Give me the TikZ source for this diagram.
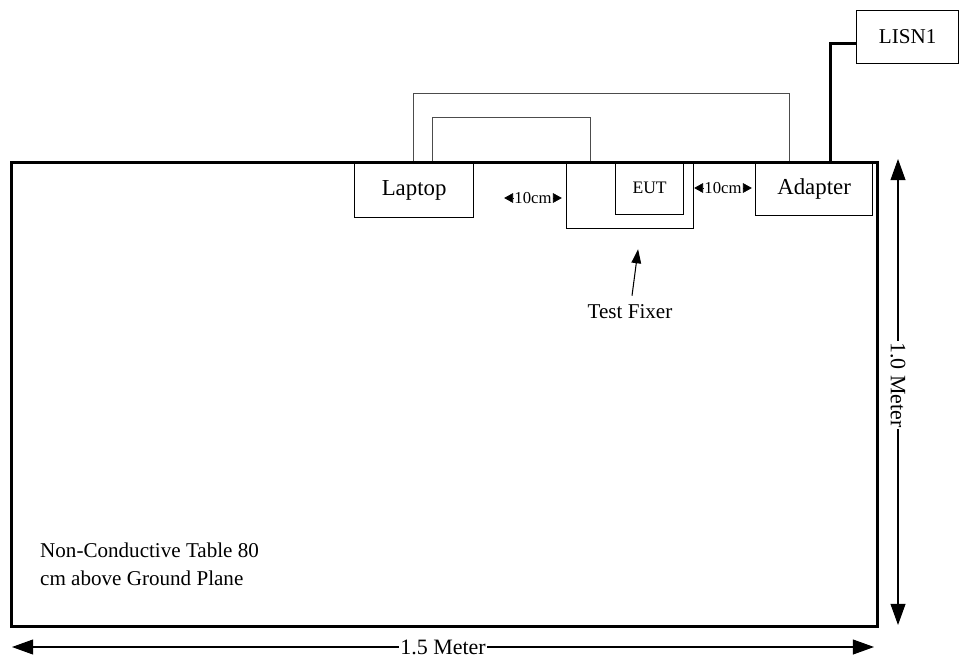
\documentclass[tikz,border=0pt]{standalone}
\usepackage{fontspec}
\setmainfont{Liberation Serif}
\usetikzlibrary{arrows.meta, calc}
\tikzset{box/.style = {
  % Rectangle:
  rectangle,
  draw, line width=0.7pt,
  inner sep=0pt, anchor=north west,
  % Text
  font=\fontsize{13}{15}\selectfont
  }}
\tikzset{tablebox/.style = {
  % Rectangle:
  rectangle,
  draw, line width=1.7pt,
  inner sep=0pt, anchor=north west
  }}
\tikzset{wire/.style = {draw=black!70, line width=0.55pt}}
\tikzset{cable/.style = {line width=1.7pt}}
\tikzset{dimline/.style = {
  {Triangle[length=12pt,width=8.5pt]}-{Triangle[length=12pt,width=8.5pt]},
  line width=0.6pt
  }}
\tikzset{dimlabel/.style = {fill=white, inner sep=1pt, font=\fontsize{12.5}{15}\selectfont}}
\tikzset{gaplabel/.style = {inner sep=0.5pt, font=\fontsize{9.5}{11}\selectfont}}
\tikzset{gaptip/.style = {-{Triangle[length=5pt,width=5.5pt]}, line width=0.4pt}}
\tikzset{pointer/.style = {-{Triangle[length=8pt,width=5.5pt]}, line width=0.6pt}}

\begin{document}
\begin{tikzpicture}[x=0.02cm, y=-0.02cm]
\useasboundingbox (0,0) rectangle (959,662);

% NODES
\node (table) [tablebox, minimum width=17.32cm, minimum height=9.28cm] at (10,161) {};

\node (laptop) [box, minimum width=2.38cm, minimum height=1.08cm] at (354,163) {};
\node at (laptop.center) [font=\fontsize{13}{15}\selectfont] {Laptop};
\node (fixture) [box, minimum width=2.54cm, minimum height=1.34cm] at (566,161) {};
\node (eut) [box, minimum width=1.36cm, minimum height=1.06cm] at (615,161) {};
\node at (eut.center) [font=\fontsize{10}{12}\selectfont] {EUT};
\node (adapter) [box, minimum width=2.34cm, minimum height=1.08cm] at (755,161) {};
\node at (adapter.center) [font=\fontsize{13}{15}\selectfont] {Adapter};
\node (lisn) [box, minimum width=2.04cm, minimum height=1.06cm] at (856,10) {};
\node at (lisn.center) [font=\fontsize{12}{14}\selectfont] {LISN1};

\node (gapL) [gaplabel] at (533,198) {10cm};
\node (gapR) [gaplabel] at (723,188) {10cm};

\node (fixlabel) [font=\fontsize{12}{14}\selectfont] at (630,312) {Test Fixer};

\node (note) [anchor=west, align=left, font=\fontsize{12}{15.9}\selectfont] at (34,564)
  {Non-Conductive Table 80\\cm above Ground Plane};

\coordinate (wtop) at (898,159);
\coordinate (wbot) at (898,625);
\coordinate (lleft) at (12,647);
\coordinate (lright) at (874,647);

% wires
\draw [wire] ($(laptop.north west)+(59,-2)$) |- ($(adapter.north west)+(34,-68)$) -- ($(adapter.north west)+(34,0)$);
\draw [wire] ($(laptop.north west)+(78,-2)$) |- ($(fixture.north west)+(24,-44)$) -- ($(fixture.north west)+(24,0)$);
\draw [cable] ($(adapter.north west)+(75,0)$) |- ($(lisn.south west)+(0,-21)$);

% arrows
\draw [gaptip] (gapL.west) -- ++(-9,0);
\draw [gaptip] (gapL.east) -- ++(9,0);
\draw [gaptip] (gapR.west) -- ++(-9,0);
\draw [gaptip] (gapR.east) -- ++(9,0);

\draw [pointer] (fixlabel.north) ++(2,-3) -- ($(fixture.south)+(8,20)$);

\draw [dimline] (wtop) -- node [dimlabel, rotate=-90, pos=0.485] {1.0 Meter} (wbot);
\draw [dimline] (lleft) -- node [dimlabel] {1.5 Meter} (lright);
\end{tikzpicture}
\end{document}
